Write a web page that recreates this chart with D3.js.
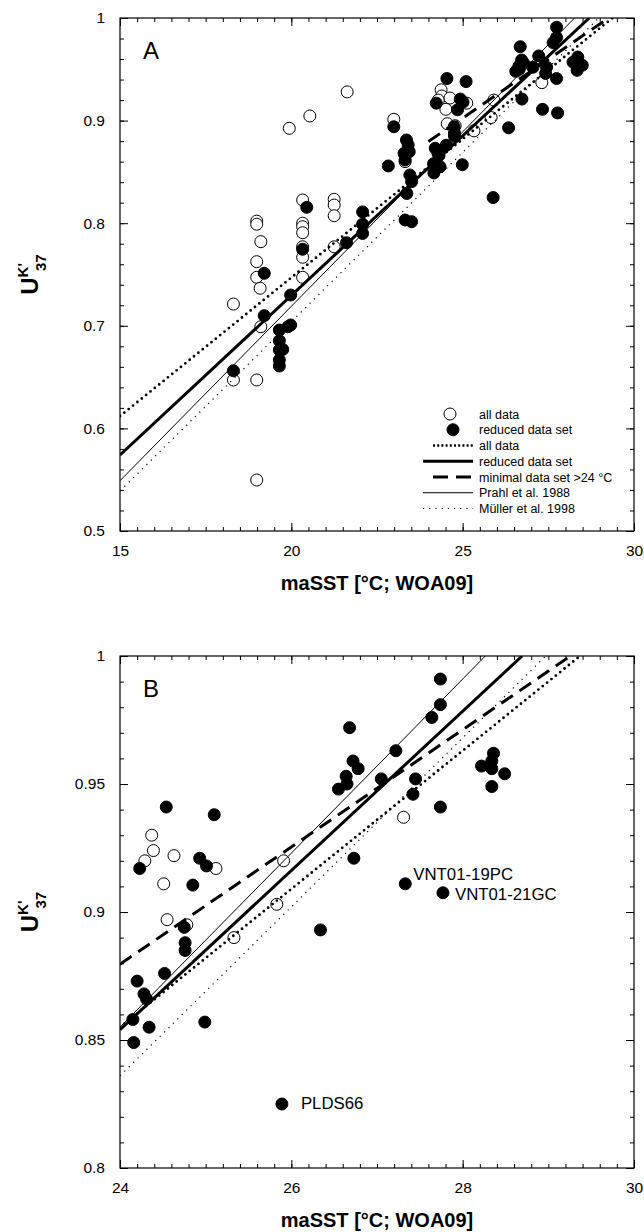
<!DOCTYPE html>
<html><head><meta charset="utf-8">
<script src="https://cdn.jsdelivr.net/npm/d3@7"></script>
<style>
body{margin:0;background:#fff;}
svg{display:block;}
text{font-family:Arial,"Liberation Sans",Helvetica,sans-serif;fill:#000;}
</style>
</head><body>
<svg id="chart" width="644" height="1232"></svg>
<script>
// ---------------- DATA ----------------
// reduced data set (filled circles): [maSST, UK'37]
const reducedSet = [
  [24.54,0.941],[25.10,0.938],[24.93,0.921],[25.01,0.918],[24.23,0.917],[24.85,0.9105],
  [24.75,0.894],[24.76,0.888],[24.76,0.885],[26.34,0.893],[24.20,0.873],[24.52,0.876],
  [24.28,0.868],[24.31,0.866],[24.15,0.858],[24.34,0.855],[24.16,0.849],[24.99,0.857],
  [25.89,0.825],[26.68,0.972],[26.72,0.959],[26.78,0.956],[26.64,0.953],[26.65,0.950],
  [26.55,0.948],[27.05,0.952],[27.22,0.963],[27.74,0.991],[27.74,0.981],[27.64,0.976],
  [27.45,0.952],[27.42,0.946],[27.74,0.941],[26.73,0.921],[27.33,0.911],[27.77,0.9075],
  [28.36,0.962],[28.34,0.959],[28.22,0.957],[28.34,0.956],[28.49,0.954],[28.34,0.949],
  [20.45,0.8155],[20.33,0.7746],[21.61,0.781],[22.08,0.811],[22.08,0.799],[22.08,0.790],
  [19.21,0.7512],[19.21,0.7099],[19.98,0.730],[19.65,0.6959],[19.98,0.7008],[19.90,0.699],
  [19.65,0.6855],[19.65,0.6764],[19.75,0.677],[19.65,0.6667],[19.65,0.6608],[18.31,0.6562],
  [22.99,0.894],[23.36,0.8811],[23.41,0.8762],[23.29,0.8681],[23.44,0.8697],[23.32,0.8616],
  [22.83,0.8558],[23.37,0.829],[23.51,0.8405],[23.46,0.847],[23.32,0.8031],[23.51,0.8015]
];
// all data (open circles) not covered by the reduced set
const allDataOnly = [
  [24.37,0.930],[24.39,0.924],[24.29,0.920],[24.63,0.922],[25.12,0.917],[24.51,0.911],
  [25.91,0.920],[25.83,0.903],[27.31,0.937],[24.55,0.897],[24.78,0.895],[25.33,0.890],
  [19.94,0.8925],[20.54,0.9045],[21.63,0.928],[18.99,0.802],[18.99,0.799],[19.11,0.782],
  [20.33,0.8226],[20.33,0.800],[20.33,0.7966],[20.33,0.7907],[21.25,0.8233],[21.25,0.8177],
  [21.25,0.8073],[20.33,0.777],[21.25,0.777],[18.99,0.7625],[18.99,0.7473],[19.09,0.7366],
  [18.31,0.7212],[19.11,0.6991],[18.31,0.6472],[18.99,0.6472],[18.99,0.5497],[20.33,0.7668],
  [20.33,0.7473],[22.99,0.9013],[23.32,0.860]
];
// calibration lines: UK'37 = slope * T + intercept
const lineKeys       = ["allFit","reducedFit","minimalFit","prahl","muller"];
const lineSlopes     = [0.027, 0.0311, 0.0229, 0.034, 0.033];
const lineIntercepts = [0.207, 0.1076, 0.330, 0.039, 0.044];
const lineStartT     = [15, 15, 24, 15, 15];

const legendLabels = ["all data","reduced data set","all data","reduced data set",
                      "minimal data set >24 \u00B0C","Prahl et al. 1988","M\u00FCller et al. 1998"];

// annotations in panel B: sample name, T, U
const annotNames = ["VNT01-19PC","VNT01-21GC","PLDS66"];
const annotT = [27.33, 27.77, 25.89];
const annotU = [0.911, 0.9075, 0.825];

const xTickLabelsA = ["15","20","25","30"];
const yTickLabelsA = ["0.5","0.6","0.7","0.8","0.9","1"];
const xTickLabelsB = ["24","26","28","30"];
const yTickLabelsB = ["0.8","0.85","0.9","0.95","1"];

// ---------------- STYLES ----------------
const lineStyle = {
  allFit:    {w:2.8, dash:"0,5.6", cap:"round"},
  reducedFit:{w:3,   dash:null,    cap:"butt"},
  minimalFit:{w:3,   dash:"14,8",  cap:"butt"},
  prahl:     {w:1,   dash:null,    cap:"butt"},
  muller:    {w:1.2, dash:"1.2,5", cap:"butt"}
};

const svg = d3.select("#chart");
const R = 6;

function drawPanel(cfg){
  const g = svg.append("g");
  const x = d3.scaleLinear().domain(cfg.xDom).range([cfg.left, cfg.right]);
  const y = d3.scaleLinear().domain(cfg.yDom).range([cfg.bottom, cfg.top]);
  const clipId = "clip"+cfg.name;
  svg.append("clipPath").attr("id",clipId).append("rect")
    .attr("x",cfg.left).attr("y",cfg.top).attr("width",cfg.right-cfg.left).attr("height",cfg.bottom-cfg.top);

  // axes: major & minor ticks inward on all 4 sides
  function ax(gen, scale, vals, size, labels, pad){
    const a = gen(scale).tickValues(vals).tickSize(size).tickPadding(pad||0);
    a.tickFormat(labels ? ((d,i)=>labels[i]) : (()=> ""));
    return a;
  }
  const mk = (axisGen, tx, ty, vals, size, labels, pad) => {
    const s = g.append("g").attr("transform",`translate(${tx},${ty})`)
      .call(ax(axisGen, axisGen===d3.axisBottom||axisGen===d3.axisTop ? x : y, vals, size, labels, pad));
    s.select(".domain").remove();
    s.selectAll("line").attr("stroke","#000").attr("stroke-width",1);
    s.selectAll("text").style("font-size","15.5px").attr("font-family",null);
    return s;
  };
  mk(d3.axisBottom,0,cfg.bottom,cfg.xMajor,-8,cfg.xLabels,14);
  mk(d3.axisBottom,0,cfg.bottom,cfg.xMinor,-4,null,0);
  mk(d3.axisTop,0,cfg.top,cfg.xMajor,-8,null,0);
  mk(d3.axisTop,0,cfg.top,cfg.xMinor,-4,null,0);
  mk(d3.axisLeft,cfg.left,0,cfg.yMajor,-8,cfg.yLabels,15);
  mk(d3.axisLeft,cfg.left,0,cfg.yMinor,-4,null,0);
  mk(d3.axisRight,cfg.right,0,cfg.yMajor,-8,null,0);
  mk(d3.axisRight,cfg.right,0,cfg.yMinor,-4,null,0);

  // frame
  g.append("rect").attr("x",cfg.left).attr("y",cfg.top)
    .attr("width",cfg.right-cfg.left).attr("height",cfg.bottom-cfg.top)
    .attr("fill","none").attr("stroke","#000").attr("stroke-width",1.2);

  // points
  const inDom = d => d[0]>=cfg.xDom[0] && d[0]<=cfg.xDom[1] && d[1]>=cfg.yDom[0] && d[1]<=cfg.yDom[1];
  g.append("g").selectAll("circle").data(allDataOnly.filter(inDom)).join("circle")
    .attr("cx",d=>x(d[0])).attr("cy",d=>y(d[1])).attr("r",R)
    .attr("fill","#fff").attr("stroke","#000").attr("stroke-width",1);
  g.append("g").selectAll("circle").data(reducedSet.filter(inDom)).join("circle")
    .attr("cx",d=>x(d[0])).attr("cy",d=>y(d[1])).attr("r",R)
    .attr("fill","#000").attr("stroke","#000").attr("stroke-width",1);

  // lines
  const lg = g.append("g").attr("clip-path",`url(#${clipId})`);
  lineKeys.forEach((k,i)=>{
    const t0 = Math.max(lineStartT[i], cfg.xDom[0]);
    const tTop = (cfg.yDom[1]-lineIntercepts[i])/lineSlopes[i];
    const t1 = Math.min(cfg.xDom[1], tTop);
    const pts = [[t0, lineSlopes[i]*t0+lineIntercepts[i]],[t1, lineSlopes[i]*t1+lineIntercepts[i]]];
    const st = lineStyle[k];
    lg.append("path").attr("d", d3.line().x(d=>x(d[0])).y(d=>y(d[1]))(pts))
      .attr("fill","none").attr("stroke","#000").attr("stroke-width",st.w)
      .attr("stroke-dasharray",st.dash).attr("stroke-linecap",st.cap);
  });

  // panel letter
  g.append("text").attr("x",cfg.left+23).attr("y",cfg.top+41).style("font-size","24px").text(cfg.name);

  // x title
  g.append("text").attr("x",(cfg.left+cfg.right)/2).attr("y",cfg.bottom+59)
    .attr("text-anchor","middle").style("font-size","20px").style("font-weight","bold")
    .text("maSST [\u00B0C; WOA09]");

  // y title
  const cy = (cfg.top+cfg.bottom)/2;
  const yt = g.append("text").attr("transform",`translate(38,${cy}) rotate(-90)`)
    .attr("text-anchor","middle").style("font-weight","bold");
  yt.append("tspan").style("font-size","24px").text("U");
  yt.append("tspan").style("font-size","15px").attr("dy",-10).text("K'");
  yt.append("tspan").style("font-size","15px").attr("dy",18).attr("dx",-8).text("37");

  return {g,x,y};
}

const A = drawPanel({name:"A", left:120, right:634, top:18, bottom:531,
  xDom:[15,30], yDom:[0.5,1],
  xMajor:[15,20,25,30], xMinor:d3.range(31).map(i=>15+i*0.5),
  yMajor:[0.5,0.6,0.7,0.8,0.9,1.0], yMinor:d3.range(26).map(i=>0.5+i*0.02),
  xLabels:xTickLabelsA, yLabels:yTickLabelsA});

const B = drawPanel({name:"B", left:120, right:634, top:656, bottom:1168,
  xDom:[24,30], yDom:[0.8,1],
  xMajor:[24,26,28,30], xMinor:d3.range(31).map(i=>24+i*0.2),
  yMajor:[0.8,0.85,0.9,0.95,1.0], yMinor:d3.range(21).map(i=>0.8+i*0.01),
  xLabels:xTickLabelsB, yLabels:yTickLabelsB});

// annotations panel B
const annotDx = [8, 12, 19], annotDy = [-4, 7, 5];
annotNames.forEach((n,i)=>{
  B.g.append("text").attr("x",B.x(annotT[i])+annotDx[i]).attr("y",B.y(annotU[i])+annotDy[i])
    .style("font-size","16.8px").text(n);
});

// legend panel A
const lgd = A.g.append("g");
const rowY = i => 414 + i*15.75;
const symX0 = 423, symX1 = 473, txtX = 479;
lgd.append("circle").attr("cx",450).attr("cy",rowY(0)).attr("r",R).attr("fill","#fff").attr("stroke","#000");
lgd.append("circle").attr("cx",453).attr("cy",rowY(1)).attr("r",R).attr("fill","#000").attr("stroke","#000");
const legLineKeys = ["allFit","reducedFit","minimalFit","prahl","muller"];
const legLineStart = [433, 423, 433, 423, 423];
legLineKeys.forEach((k,i)=>{
  const st = lineStyle[k];
  lgd.append("line").attr("x1",legLineStart[i]).attr("x2",symX1).attr("y1",rowY(i+2)).attr("y2",rowY(i+2))
    .attr("stroke","#000").attr("stroke-width",k==="allFit"?2.4:st.w)
    .attr("stroke-dasharray",k==="allFit"?"2,2.2":(k==="minimalFit"?"15,8":st.dash))
    .attr("stroke-linecap","butt");
});
legendLabels.forEach((t,i)=>{
  lgd.append("text").attr("x",txtX).attr("y",rowY(i)+4.5).style("font-size","12.5px").text(t);
});
</script>
</body></html>
